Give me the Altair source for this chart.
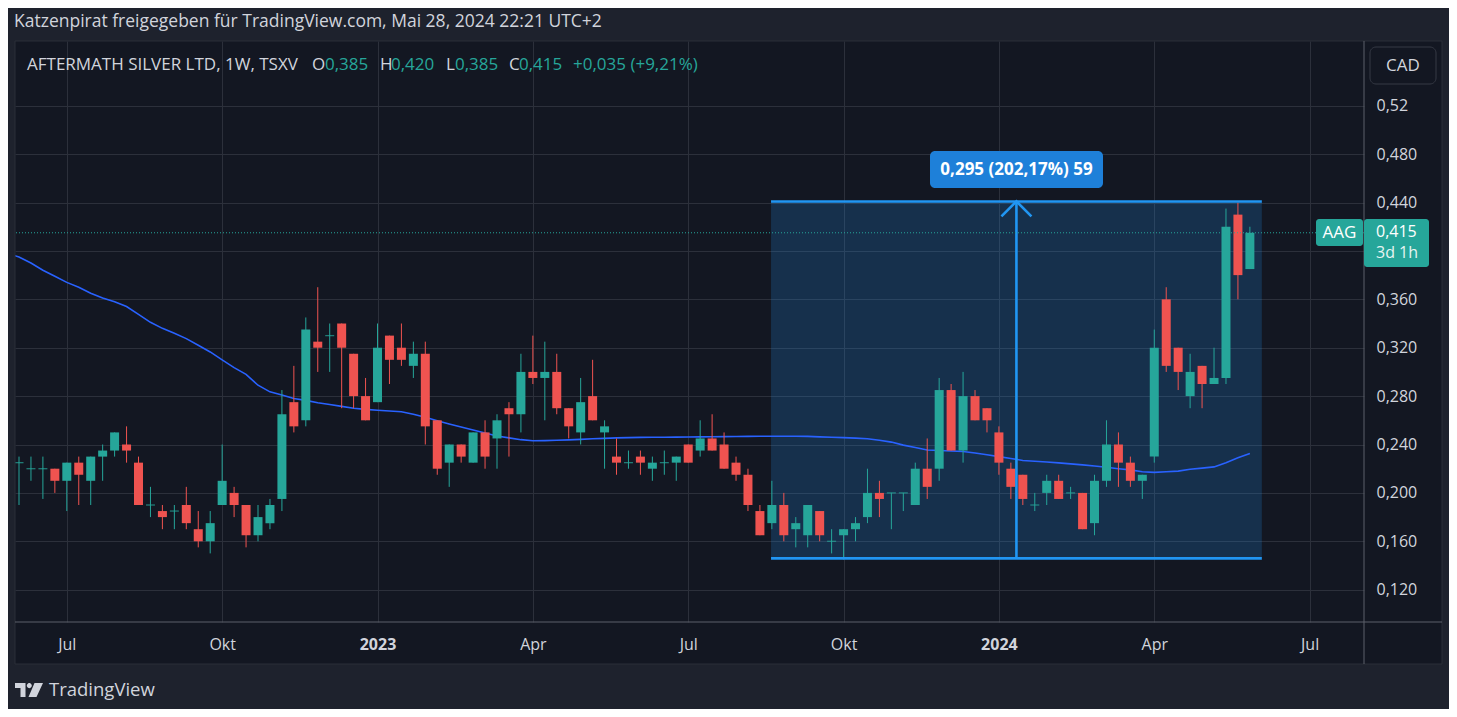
import altair as alt
import pandas as pd

# ---------------- data (weekly candles, index 1 = week of 6 Jun 2022) ----------------
opens = [0.225, 0.22, 0.22, 0.22, 0.21, 0.225, 0.21, 0.23, 0.235, 0.24,
         0.225, 0.19, 0.185, 0.185, 0.19, 0.17, 0.16, 0.19, 0.20, 0.19,
         0.165, 0.175, 0.195, 0.275, 0.26, 0.325, 0.33, 0.34, 0.315, 0.28,
         0.275, 0.33, 0.32, 0.305, 0.315, 0.26, 0.225, 0.24, 0.225, 0.25,
         0.245, 0.27, 0.265, 0.30, 0.295, 0.30, 0.27, 0.25, 0.28, 0.25,
         0.23, 0.225, 0.23, 0.22, 0.225, 0.225, 0.24, 0.235, 0.245, 0.24,
         0.225, 0.215, 0.185, 0.175, 0.19, 0.17, 0.165, 0.185, 0.16, 0.165,
         0.17, 0.18, 0.20, 0.20, 0.20, 0.19, 0.22, 0.22, 0.285, 0.235,
         0.28, 0.27, 0.25, 0.22, 0.215, 0.19, 0.20, 0.21, 0.20, 0.20,
         0.175, 0.21, 0.24, 0.225, 0.21, 0.23, 0.36, 0.32, 0.28, 0.305,
         0.29, 0.295, 0.43, 0.385]
highs = [0.23, 0.23, 0.23, 0.22, 0.225, 0.23, 0.23, 0.24, 0.25, 0.255,
         0.23, 0.205, 0.19, 0.19, 0.205, 0.185, 0.185, 0.24, 0.205, 0.19,
         0.19, 0.195, 0.285, 0.305, 0.345, 0.37, 0.34, 0.34, 0.315, 0.295,
         0.34, 0.33, 0.34, 0.325, 0.325, 0.26, 0.24, 0.24, 0.25, 0.26,
         0.265, 0.275, 0.315, 0.33, 0.325, 0.315, 0.27, 0.295, 0.31, 0.26,
         0.245, 0.235, 0.235, 0.23, 0.235, 0.23, 0.24, 0.26, 0.265, 0.25,
         0.23, 0.22, 0.19, 0.21, 0.20, 0.18, 0.19, 0.185, 0.17, 0.17,
         0.18, 0.22, 0.21, 0.20, 0.20, 0.225, 0.245, 0.295, 0.29, 0.30,
         0.285, 0.27, 0.255, 0.225, 0.215, 0.20, 0.215, 0.215, 0.205, 0.20,
         0.215, 0.26, 0.25, 0.23, 0.215, 0.335, 0.37, 0.32, 0.315, 0.305,
         0.32, 0.435, 0.44, 0.42]
lows = [0.19, 0.21, 0.195, 0.20, 0.185, 0.19, 0.19, 0.21, 0.23, 0.225,
        0.19, 0.18, 0.17, 0.17, 0.17, 0.155, 0.15, 0.19, 0.18, 0.155,
        0.16, 0.17, 0.185, 0.25, 0.255, 0.30, 0.30, 0.27, 0.27, 0.26,
        0.275, 0.29, 0.305, 0.295, 0.24, 0.215, 0.205, 0.225, 0.225, 0.22,
        0.22, 0.23, 0.25, 0.29, 0.26, 0.265, 0.245, 0.24, 0.26, 0.22,
        0.215, 0.22, 0.215, 0.21, 0.215, 0.21, 0.225, 0.23, 0.235, 0.22,
        0.21, 0.185, 0.165, 0.17, 0.16, 0.155, 0.155, 0.16, 0.15, 0.145,
        0.16, 0.175, 0.18, 0.17, 0.185, 0.19, 0.195, 0.21, 0.235, 0.225,
        0.26, 0.25, 0.215, 0.195, 0.19, 0.185, 0.19, 0.195, 0.195, 0.17,
        0.165, 0.205, 0.205, 0.205, 0.195, 0.225, 0.30, 0.285, 0.27, 0.27,
        0.29, 0.29, 0.36, 0.385]
closes = [0.225, 0.22, 0.22, 0.21, 0.225, 0.215, 0.23, 0.235, 0.25, 0.235,
          0.19, 0.19, 0.18, 0.185, 0.175, 0.16, 0.175, 0.21, 0.19, 0.165,
          0.18, 0.19, 0.265, 0.255, 0.335, 0.32, 0.33, 0.32, 0.28, 0.26,
          0.32, 0.31, 0.31, 0.315, 0.255, 0.22, 0.24, 0.23, 0.25, 0.23,
          0.26, 0.265, 0.30, 0.295, 0.30, 0.27, 0.255, 0.275, 0.26, 0.255,
          0.225, 0.225, 0.225, 0.225, 0.225, 0.23, 0.225, 0.245, 0.235, 0.22,
          0.215, 0.19, 0.165, 0.19, 0.165, 0.175, 0.19, 0.165, 0.16, 0.17,
          0.175, 0.20, 0.195, 0.20, 0.20, 0.22, 0.205, 0.285, 0.235, 0.28,
          0.26, 0.26, 0.225, 0.205, 0.195, 0.19, 0.21, 0.195, 0.20, 0.17,
          0.21, 0.24, 0.225, 0.21, 0.215, 0.32, 0.305, 0.30, 0.30, 0.29,
          0.295, 0.42, 0.38, 0.415]
# 50-week moving average, index 0 .. 104 (index 0 = week before the first visible bar)
ma50 = [0.398,
        0.395, 0.390, 0.384, 0.379, 0.374, 0.370, 0.365, 0.361, 0.358, 0.354,
        0.3475, 0.341, 0.336, 0.332, 0.3275, 0.322, 0.3165, 0.310, 0.3035, 0.298,
        0.289, 0.2835, 0.281, 0.278, 0.2765, 0.2745, 0.273, 0.2715, 0.270, 0.269,
        0.2683, 0.2677, 0.2671, 0.265, 0.2625, 0.2597, 0.257, 0.2545, 0.252, 0.2495,
        0.247, 0.2455, 0.244, 0.2431, 0.2432, 0.2435, 0.2438, 0.2442, 0.2447, 0.2451,
        0.2455, 0.2457, 0.2459, 0.246, 0.246, 0.2461, 0.2462, 0.2463, 0.2464, 0.2465,
        0.2466, 0.2467, 0.2468, 0.2468, 0.2468, 0.2468, 0.2467, 0.2463, 0.246, 0.2457,
        0.2453, 0.2448, 0.2435, 0.242, 0.2395, 0.2375, 0.2355, 0.235, 0.2346, 0.2342,
        0.233, 0.2315, 0.230, 0.2285, 0.2268, 0.2262, 0.2255, 0.2248, 0.224, 0.2232,
        0.2222, 0.2212, 0.220, 0.219, 0.2175, 0.217, 0.2175, 0.218, 0.2195, 0.2205,
        0.2215, 0.225, 0.229, 0.2326]
bar_index = list(range(1, len(opens) + 1))
ma_index = list(range(0, len(ma50)))

x_tick_idx = [5, 18, 31, 44, 57, 70, 83, 96, 109]
x_tick_lbl = ["Jul", "Okt", "2023", "Apr", "Jul", "Okt", "2024", "Apr", "Jul"]
x_year_idx = [31, 83]
y_tick_vals = [0.12, 0.16, 0.20, 0.24, 0.28, 0.32, 0.36, 0.40, 0.44, 0.48, 0.52]
y_tick_lbl = ["0,120", "0,160", "0,200", "0,240", "0,280", "0,320", "0,360",
              "0,400", "0,440", "0,480", "0,52"]

meas_idx = [63.93, 105.0]
meas_price = [0.1459, 0.4409]
last_close = 0.415

# ---------------- styles ----------------
FONT = "Open Sans"
PANEL = "#131722"
OUTER = "#1e222d"
GRID = "#2c303b"
SEP = "#5d606b"
TXT = "#d1d4dc"
UP = "#26a69a"
DOWN = "#ef5350"
BLUE = "#2196f3"
MA_COL = "#2962ff"

df = pd.DataFrame({"idx": bar_index, "open": opens, "high": highs,
                   "low": lows, "close": closes})
df["dir"] = ["up" if c >= o else "down" for o, c in zip(opens, closes)]
doji = df[df["open"] == df["close"]]
ma_df = pd.DataFrame({"idx": ma_index, "ma": ma50})
meas_df = pd.DataFrame({"x1": [meas_idx[0]], "x2": [meas_idx[1]],
                        "lo": [meas_price[0]], "hi": [meas_price[1]],
                        "mid": [(meas_idx[0] + meas_idx[1]) / 2]})
last_df = pd.DataFrame({"p": [last_close]})
one = pd.DataFrame({"a": [0]})

xexpr = " : ".join(f"datum.value == {v} ? '{l}'" for v, l in zip(x_tick_idx, x_tick_lbl)) + " : ''"
yexpr = " : ".join(f"round(datum.value*1000) == {round(v*1000)} ? '{l}'"
                   for v, l in zip(y_tick_vals, y_tick_lbl)) + " : ''"
year_test = " || ".join(f"datum.value == {v}" for v in x_year_idx)

xs = alt.Scale(domain=[0.665, 113.55], nice=False, zero=False, padding=0)
ys = alt.Scale(domain=[0.0933, 0.5735], nice=False, zero=False, padding=0)

xaxis = alt.Axis(values=x_tick_idx, labelExpr=xexpr, title=None, grid=True,
                 gridColor=GRID, gridWidth=1, domain=False, ticks=False, tickSize=0,
                 labelPadding=22, labelBaseline="middle", labelColor=TXT,
                 labelFont=FONT, labelFontSize=16,
                 labelFontWeight={"condition": {"test": year_test, "value": "bold"},
                                  "value": "normal"},
                 labelFlush=False, labelOverlap=False, labelAngle=0)
yaxis = alt.Axis(orient="right", values=y_tick_vals, labelExpr=yexpr, title=None,
                 grid=True, gridColor=GRID, gridWidth=1, domain=False, ticks=False,
                 tickSize=0, labelPadding=12, labelAlign="left",
                 labelBaseline="middle", labelColor=TXT, labelFont=FONT,
                 labelFontSize=16, labelFlush=False, labelOverlap=False)


def X(f):
    return alt.X(f, type="quantitative", scale=xs, axis=xaxis)


def Y(f):
    return alt.Y(f, type="quantitative", scale=ys, axis=yaxis)


def prect(x, x2, y, y2, **kw):
    return alt.Chart(one).mark_rect(**kw).encode(
        x=alt.value(x), x2=alt.value(x2), y=alt.value(y), y2=alt.value(y2))


def prule(x, x2, y, y2, **kw):
    return alt.Chart(one).mark_rule(**kw).encode(
        x=alt.value(x), x2=alt.value(x2), y=alt.value(y), y2=alt.value(y2))


def ptext(text, x, y, **kw):
    base = dict(font=FONT, fontSize=16, color=TXT, align="left", baseline="middle")
    base.update(kw)
    return alt.Chart(one).mark_text(text=text, **base).encode(
        x=alt.value(x), y=alt.value(y))


# ---------------- layers ----------------
layers = []

# measurement tool background
layers.append(alt.Chart(meas_df).mark_rect(color=BLUE, opacity=0.2).encode(
    x=X("x1"), x2="x2", y=Y("lo"), y2="hi"))

# moving average
layers.append(alt.Chart(ma_df).mark_line(color=MA_COL, strokeWidth=1.6, clip=True).encode(
    x=X("idx"), y=Y("ma")))

# candles
color = alt.Color("dir:N", scale=alt.Scale(domain=["up", "down"], range=[UP, DOWN]), legend=None)
layers.append(alt.Chart(df).mark_rule(strokeWidth=1).encode(
    x=X("idx"), y=Y("low"), y2="high", color=color))
layers.append(alt.Chart(df).mark_bar(size=9).encode(
    x=X("idx"), y=Y("open"), y2="close", color=color))
layers.append(alt.Chart(doji).mark_tick(orient="horizontal", size=9, thickness=1.3, color=UP).encode(
    x=X("idx"), y=Y("open")))

# measurement lines + arrow
layers.append(alt.Chart(meas_df).mark_rule(color=BLUE, strokeWidth=2.6).encode(
    x=X("x1"), x2="x2", y=Y("hi")))
layers.append(alt.Chart(meas_df).mark_rule(color=BLUE, strokeWidth=2.6).encode(
    x=X("x1"), x2="x2", y=Y("lo")))
layers.append(alt.Chart(meas_df).mark_rule(color=BLUE, strokeWidth=2.6).encode(
    x=X("mid"), y=Y("lo"), y2="hi"))
layers.append(alt.Chart(meas_df).mark_point(
    shape="M -1 1 L 0 0 L 1 1", filled=False, size=900, strokeWidth=2.6,
    color=BLUE, opacity=1).encode(x=X("mid"), y=Y("hi")))

# last price dotted line
layers.append(alt.Chart(last_df).mark_rule(color=UP, strokeWidth=1, strokeDash=[1, 2]).encode(
    y=Y("p")))

# measurement label
layers.append(prect(915, 1088, 110, 147, color="#1e80d9", cornerRadius=5))
layers.append(ptext("0,295 (202,17%) 59", 1001.5, 129, color="#ffffff",
                    align="center", fontWeight="bold", fontSize=17))

# outer frame bands
layers.append(prect(-15, 1450, -41, 0, color=OUTER))
layers.append(prect(-15, 1450, 623, 690, color=OUTER))
layers.append(prect(-15, 0, -41, 690, color=OUTER))
layers.append(prect(1427, 1450, -41, 690, color=OUTER))
layers.append(prect(0, 1427, 0, 623, fillOpacity=0, stroke="#2a2e39", strokeWidth=1))

# separators
layers.append(prule(0, 1427, 581, 581, color=SEP, strokeWidth=1))
layers.append(prule(1349, 1349, 0, 623, color=SEP, strokeWidth=1))

# price axis labels
layers.append(prect(1301, 1348, 178, 205, color=UP, cornerRadius=3))
layers.append(ptext("AAG", 1324.5, 191.5, color="#ffffff", align="center", fontSize=17))
layers.append(prect(1349, 1414, 178, 226, color=UP, cornerRadius=3))
layers.append(ptext("0,415", 1361, 190.5, color="#ffffff"))
layers.append(ptext("3d 1h", 1361, 211.5, color="#e6f4f2"))

# CAD button
layers.append(prect(1355, 1421, 6, 43, fill=PANEL, stroke="#363a45", strokeWidth=1, cornerRadius=6))
layers.append(ptext("CAD", 1388, 25, align="center", fontSize=17))

# header and legend
layers.append(ptext("Katzenpirat freigegeben für TradingView.com, Mai 28, 2024 22:21 UTC+2",
                    -1, -19, fontSize=17.5))
legend_parts = [("AFTERMATH SILVER LTD, 1W, TSXV", 12, TXT),
                ("O", 297, TXT), ("0,385", 310, UP),
                ("H", 365, TXT), ("0,420", 376, UP),
                ("L", 431, TXT), ("0,385", 440, UP),
                ("C", 494, TXT), ("0,415", 504, UP),
                ("+0,035 (+9,21%)", 558, UP)]
for t, xx, c in legend_parts:
    layers.append(ptext(t, xx, 24, color=c, fontSize=17))


# footer logo
def lp(x, y):
    return f"{(x - 14) / 14:.4f},{(y - 7) / 14:.4f}"


r = 2.5 / 14
logo_path = (f"M{lp(0,0)} L{lp(10.5,0)} L{lp(10.5,14)} L{lp(5.5,14)} L{lp(5.5,5)} L{lp(0,5)} Z "
             f"M{lp(11.8,2.6)} A{r:.4f},{r:.4f} 0 1,0 {lp(16.8,2.6)} A{r:.4f},{r:.4f} 0 1,0 {lp(11.8,2.6)} Z "
             f"M{lp(19.5,0)} L{lp(28,0)} L{lp(21.5,14)} L{lp(13.5,14)} Z")
layers.append(alt.Chart(one).mark_point(shape=logo_path, filled=True, size=784,
                                        color=TXT, opacity=1, strokeWidth=0).encode(
    x=alt.value(14), y=alt.value(649)))
layers.append(ptext("TradingView", 34, 649, fontSize=18.5, fontWeight=500))

chart = alt.layer(*layers).properties(
    width=1349, height=581,
    autosize=alt.AutoSizeParams(type="none"),
    padding={"left": 7, "top": 33, "right": 85, "bottom": 87},
).configure(background=PANEL).configure_view(strokeWidth=0)

chart.save("out.html", embed_options={"renderer": "svg", "actions": False})
